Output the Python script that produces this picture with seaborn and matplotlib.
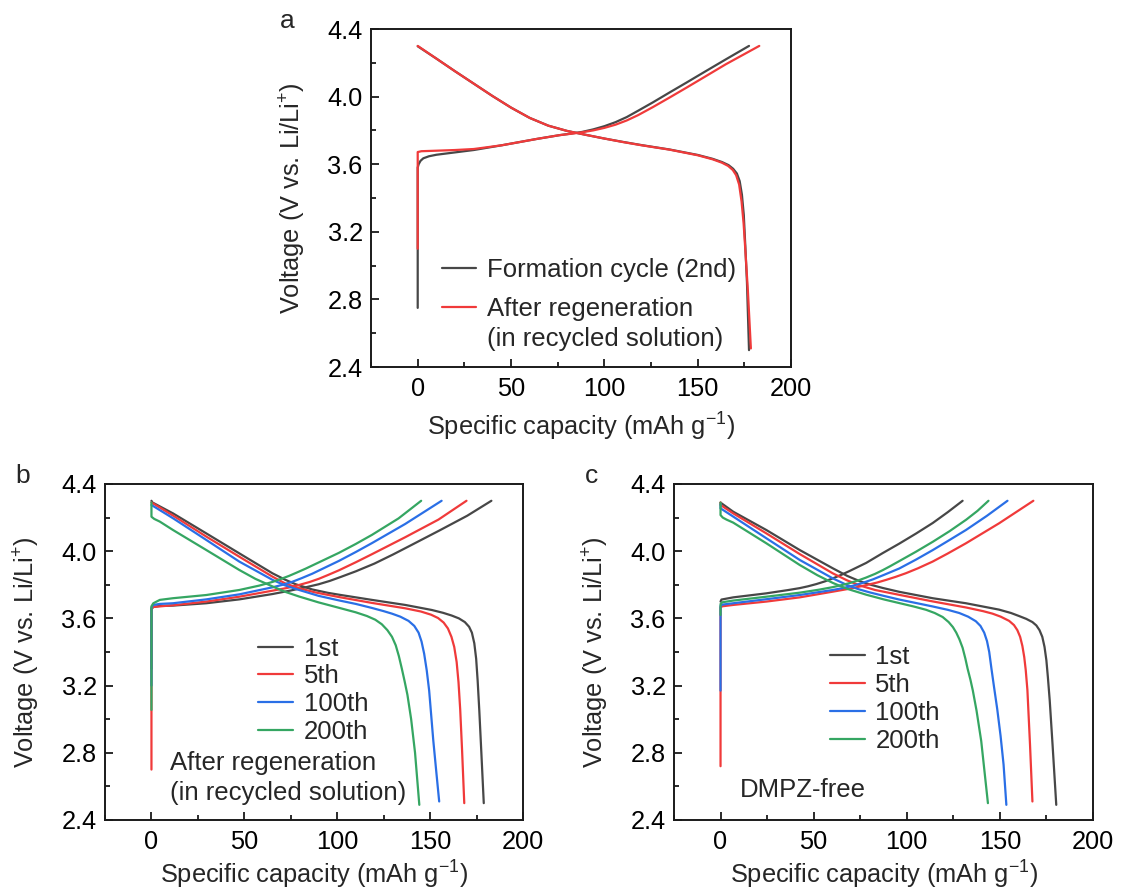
import matplotlib
matplotlib.use("Agg")
import matplotlib.pyplot as plt
import pandas as pd
import seaborn as sns
from matplotlib.lines import Line2D
from matplotlib.ticker import MultipleLocator, FormatStrFormatter

# ---------------------------------------------------------------------------
# Charge / discharge profiles: (specific capacity in mAh/g, voltage in V)
# ---------------------------------------------------------------------------

# (a) formation cycle vs. regenerated cathode
A_FORM_CHG = [(0, 2.75), (0, 3.58), (0.5, 3.60), (1.5, 3.62), (3, 3.635), (6, 3.647),
              (10, 3.656), (20, 3.670), (30, 3.684), (45, 3.712), (64, 3.750),
              (76, 3.772), (82, 3.781), (88, 3.791), (94, 3.806), (100, 3.825),
              (106, 3.849), (112, 3.879), (118, 3.916), (126, 3.966), (135, 4.025),
              (144, 4.083), (153, 4.142), (165, 4.220), (177.5, 4.30)]
A_FORM_DIS = [(0, 4.298), (10, 4.225), (20, 4.150), (30, 4.077), (40, 4.004), (50, 3.935),
              (60, 3.874), (70, 3.828), (80, 3.797), (90, 3.774), (100, 3.752),
              (110, 3.732), (120, 3.713), (135, 3.687), (150, 3.655), (158, 3.632),
              (163, 3.613), (166.5, 3.595), (169, 3.573), (171, 3.545), (172.5, 3.50),
              (173.7, 3.42), (174.7, 3.30), (175.5, 3.12), (176.4, 2.90), (177.5, 2.50)]
A_REGEN_CHG = [(0, 3.10), (0, 3.672), (2, 3.677), (10, 3.680), (20, 3.684), (30, 3.690),
               (45, 3.712), (64, 3.750), (76, 3.772), (82, 3.780), (88, 3.789),
               (94, 3.800), (100, 3.815), (106, 3.834), (112, 3.859), (118, 3.890),
               (126, 3.938), (135, 3.995), (144, 4.053), (153, 4.112), (165, 4.191),
               (183, 4.30)]
A_REGEN_DIS = [(0, 4.300), (10, 4.225), (20, 4.150), (30, 4.077), (40, 4.004), (50, 3.935),
               (60, 3.874), (70, 3.828), (80, 3.797), (90, 3.774), (100, 3.752),
               (110, 3.731), (120, 3.712), (135, 3.686), (150, 3.653), (158, 3.629),
               (163, 3.609), (166.3, 3.590), (168.8, 3.566), (170.6, 3.535), (172.2, 3.48),
               (173.5, 3.38), (174.6, 3.25), (175.6, 3.08), (176.9, 2.85), (178.5, 2.51)]

# (b) cycling after regeneration in recycled solution
B_1ST_CHG = [(0, 3.30), (0, 3.655), (1, 3.668), (4.5, 3.674), (11.6, 3.676), (29.5, 3.690),
             (47.3, 3.713), (65.2, 3.745), (75, 3.766), (83, 3.785), (90, 3.803),
             (96, 3.823), (102, 3.847), (110, 3.880), (120, 3.926), (130, 3.980),
             (140, 4.037), (155, 4.123), (170, 4.211), (183, 4.30)]
B_1ST_DIS = [(0, 4.300), (0.5, 4.290), (11.6, 4.225), (29.5, 4.106), (47.3, 3.987),
             (65.2, 3.868), (72, 3.830), (77.7, 3.803), (86.6, 3.772), (95, 3.752),
             (100.9, 3.741), (118.7, 3.710), (136.6, 3.680), (150.9, 3.650), (157, 3.633),
             (161.6, 3.617), (165.5, 3.600), (168.7, 3.578), (171, 3.550), (172.5, 3.515),
             (173.8, 3.452), (174.8, 3.36), (175.6, 3.23), (176.5, 3.05), (177.6, 2.80),
             (178.9, 2.50)]
B_5TH_CHG = [(0, 2.70), (0, 3.660), (1, 3.668), (11.6, 3.678), (29.5, 3.700), (47.3, 3.729),
             (65.2, 3.765), (73, 3.781), (79.5, 3.799), (85, 3.816), (90.2, 3.836),
             (95, 3.858), (100.9, 3.886), (110, 3.934), (118.7, 3.982), (136.6, 4.083),
             (154.5, 4.188), (169.6, 4.30)]
B_5TH_DIS = [(0, 4.290), (11.6, 4.212), (29.5, 4.087), (47.3, 3.967), (65.2, 3.848),
             (72, 3.808), (79.5, 3.779), (88, 3.755), (100.9, 3.727), (118.7, 3.692),
             (136.6, 3.660), (145, 3.641), (150.5, 3.622), (154.3, 3.602), (157.3, 3.575),
             (159.6, 3.540), (161.5, 3.490), (163, 3.430), (164.3, 3.340), (165.3, 3.220),
             (166.2, 3.06), (167.2, 2.82), (168.4, 2.50)]
B_100TH_CHG = [(0, 3.20), (0, 3.665), (1, 3.680), (4.5, 3.686), (11.6, 3.690), (29.5, 3.713),
               (47.3, 3.743), (65.2, 3.785), (71, 3.801), (75.9, 3.818), (81, 3.840),
               (86.6, 3.866), (93, 3.900), (100.9, 3.942), (110, 3.995), (118.7, 4.048),
               (136.6, 4.162), (156.2, 4.30)]
B_100TH_DIS = [(0, 4.275), (11.6, 4.196), (29.5, 4.067), (47.3, 3.938), (65.2, 3.829),
               (72, 3.796), (79.5, 3.769), (90, 3.734), (100.9, 3.707), (110, 3.686),
               (118.7, 3.662), (125, 3.643), (129.5, 3.628), (134, 3.610), (138.4, 3.585),
               (141.5, 3.555), (143.8, 3.515), (145.4, 3.462), (146.8, 3.390), (148.2, 3.290),
               (149.5, 3.170), (151.7, 2.876), (153.4, 2.68), (154.9, 2.51)]
B_200TH_CHG = [(0, 3.055), (0, 3.672), (1, 3.690), (4.5, 3.710), (11.6, 3.720), (29.5, 3.739),
               (47.3, 3.769), (58, 3.795), (65.2, 3.817), (70, 3.836), (74.1, 3.853),
               (78.5, 3.874), (83, 3.896), (91, 3.938), (100.9, 3.990), (110, 4.043),
               (118.7, 4.097), (133, 4.195), (145.2, 4.30)]
B_200TH_DIS = [(0, 4.290), (0, 4.205), (1.5, 4.192), (4.5, 4.176), (11.6, 4.126),
               (29.5, 4.007), (47.3, 3.888), (56, 3.835), (65.2, 3.790), (72, 3.758),
               (79.5, 3.730), (90, 3.695), (100.9, 3.663), (110, 3.636), (116, 3.614),
               (120.5, 3.592), (124, 3.565), (127, 3.530), (129.5, 3.490), (131.5, 3.440),
               (133.2, 3.375), (134.8, 3.300), (136.3, 3.225), (137.8, 3.145),
               (139.8, 3.000), (141.9, 2.800), (144.2, 2.49)]

# (c) DMPZ-free reference
C_1ST_CHG = [(0, 3.700), (0.5, 3.712), (6.8, 3.725), (24.6, 3.749), (36, 3.768),
             (42.5, 3.780), (47, 3.791), (51.4, 3.804), (56, 3.820), (60.3, 3.838),
             (65, 3.860), (69.3, 3.882), (78.2, 3.930), (87, 3.988), (96, 4.045),
             (105, 4.105), (114, 4.168), (122, 4.232), (130, 4.30)]
C_1ST_DIS = [(0, 4.289), (6.8, 4.235), (24.6, 4.126), (42.5, 4.007), (60.3, 3.898),
             (68, 3.853), (74.6, 3.822), (81, 3.799), (87.1, 3.781), (96, 3.758),
             (113.9, 3.720), (131.8, 3.690), (149.6, 3.652), (156, 3.632), (160.3, 3.614),
             (164.2, 3.597), (167.5, 3.578), (169.6, 3.558), (171.3, 3.530), (172.8, 3.490),
             (174, 3.430), (175, 3.350), (175.8, 3.250), (176.8, 3.110), (178.3, 2.850),
             (180.3, 2.49)]
C_5TH_CHG = [(0, 2.72), (0, 3.666), (1, 3.672), (6.8, 3.680), (24.6, 3.700), (42.5, 3.725),
             (60.3, 3.759), (70, 3.778), (78.2, 3.798), (84, 3.813), (88.9, 3.829),
             (94, 3.847), (99.6, 3.869), (106, 3.898), (113.9, 3.938), (122, 3.986),
             (131.8, 4.047), (149.6, 4.166), (168, 4.30)]
C_5TH_DIS = [(0, 4.290), (0, 4.275), (6.8, 4.225), (24.6, 4.106), (42.5, 3.983), (60.3, 3.868),
             (68, 3.826), (75, 3.795), (83, 3.769), (96, 3.740), (113.9, 3.701), (131.8, 3.665),
             (141, 3.643), (146.1, 3.628), (150.5, 3.610), (155, 3.585), (157.6, 3.560),
             (159.4, 3.530), (160.9, 3.490), (162.1, 3.436), (163.1, 3.370), (163.9, 3.293),
             (164.8, 3.174), (166.2, 2.850), (167.5, 2.51)]
C_100TH_CHG = [(0, 3.17), (0, 3.674), (1, 3.682), (6.8, 3.690), (24.6, 3.714), (42.5, 3.739),
               (60.3, 3.769), (66, 3.781), (71, 3.794), (76, 3.810), (81.8, 3.832),
               (88, 3.860), (96, 3.897), (105, 3.950), (113.9, 4.006), (122, 4.060),
               (131.8, 4.126), (143, 4.210), (154.1, 4.30)]
C_100TH_DIS = [(0, 4.280), (0, 4.255), (6.8, 4.206), (24.6, 4.077), (42.5, 3.948),
               (60.3, 3.838), (68, 3.798), (74, 3.774), (80, 3.755), (88, 3.733), (96, 3.712),
               (113.9, 3.671), (122, 3.651), (128.2, 3.632), (133, 3.610), (137.1, 3.583),
               (139.6, 3.555), (141.6, 3.515), (143.1, 3.465), (144.3, 3.400), (145.5, 3.300),
               (146.9, 3.190), (148.6, 3.060), (150.4, 2.900), (152, 2.730), (153.5, 2.49)]
C_200TH_CHG = [(0, 3.62), (0, 3.686), (1, 3.696), (6.8, 3.706), (24.6, 3.729), (42.5, 3.753),
               (53, 3.771), (60.3, 3.786), (65, 3.798), (69.3, 3.810), (74, 3.826),
               (78.2, 3.843), (83, 3.865), (87.1, 3.887), (91, 3.910), (96, 3.941),
               (105, 3.997), (114, 4.056), (123, 4.119), (132, 4.188), (138, 4.240),
               (143.9, 4.30)]
C_200TH_DIS = [(0, 4.289), (0, 4.215), (1.2, 4.200), (3.2, 4.188), (6.8, 4.170),
               (24.6, 4.047), (42.5, 3.918), (52, 3.857), (60.3, 3.811), (68, 3.776),
               (78.2, 3.741), (88, 3.712), (96, 3.691), (104, 3.670), (110.4, 3.651),
               (115, 3.632), (119.3, 3.608), (122.5, 3.578), (124.8, 3.548), (126.6, 3.515),
               (128.3, 3.475), (130, 3.425), (131.5, 3.360), (132.7, 3.300), (134.2, 3.235),
               (135.5, 3.170), (137.5, 3.050), (140, 2.870), (143.6, 2.50)]

A_LABELS = ["Formation cycle (2nd)", "After regeneration"]
CYCLE_LABELS = ["1st", "5th", "100th", "200th"]

GRAY, RED, BLUE, GREEN = "#474747", "#f03a3a", "#2a6fe6", "#35a662"
A_COLORS = [GRAY, RED]
CYCLE_COLORS = [GRAY, RED, BLUE, GREEN]

# ---------------------------------------------------------------------------
sns.set_style("ticks")
plt.rcParams["font.family"] = ["Liberation Sans", "DejaVu Sans"]
plt.rcParams["mathtext.fontset"] = "custom"
plt.rcParams["mathtext.rm"] = "Liberation Sans"
plt.rcParams["mathtext.it"] = "Liberation Sans:italic"
plt.rcParams["mathtext.default"] = "regular"
plt.rcParams["axes.linewidth"] = 1.4
plt.rcParams["axes.edgecolor"] = "#1a1a1a"

TICK_FS = 18.3
LABEL_FS = 18.3
TEXT_FS = 18.5


def to_frame(groups):
    """groups: list of (hue label, [curve, curve, ...])"""
    rows = []
    for label, curves in groups:
        for k, curve in enumerate(curves):
            for q, v in curve:
                rows.append({"Q": q, "V": v, "series": label, "unit": f"{label}-{k}"})
    return pd.DataFrame(rows)


def style_axes(ax, xlabel_y):
    ax.set_xlim(-25, 200)
    ax.set_ylim(2.4, 4.4)
    ax.xaxis.set_major_locator(MultipleLocator(50))
    ax.xaxis.set_minor_locator(MultipleLocator(25))
    ax.yaxis.set_major_locator(MultipleLocator(0.4))
    ax.yaxis.set_minor_locator(MultipleLocator(0.2))
    ax.yaxis.set_major_formatter(FormatStrFormatter("%.1f"))
    ax.tick_params(which="both", direction="in", top=False, right=False,
                   width=1.3, colors="#1a1a1a", labelcolor="black")
    ax.tick_params(which="major", length=6, labelsize=TICK_FS)
    ax.tick_params(which="minor", length=3.5)
    ax.tick_params(axis="x", which="major", pad=7.5)
    ax.tick_params(axis="y", which="major", pad=6)
    for s in ax.spines.values():
        s.set_visible(True)
        s.set_linewidth(1.4)
    ax.set_xlabel(r"Specific capacity (mAh g$^{-1}$)", fontsize=LABEL_FS)
    ax.set_ylabel(r"Voltage (V vs. Li/Li$^{+}$)", fontsize=LABEL_FS)
    ax.xaxis.set_label_coords(0.5, xlabel_y)
    ax.yaxis.set_label_coords(-0.151, 0.5)


def draw(ax, df, order, colors):
    sns.lineplot(data=df, x="Q", y="V", hue="series", hue_order=order,
                 palette=dict(zip(order, colors)), units="unit", estimator=None,
                 sort=False, linewidth=1.6, legend=False, ax=ax)


def add_legend(ax, labels, colors, anchor, spacing):
    handles = [Line2D([], [], color=c, lw=1.6) for c in colors]
    ax.legend(handles, labels, loc="upper left", bbox_to_anchor=anchor,
              frameon=False, fontsize=TEXT_FS, handlelength=1.35,
              handletextpad=0.42, labelspacing=spacing, borderpad=0,
              borderaxespad=0)


fig = plt.figure(figsize=(11.22, 8.9), dpi=100)
ax_a = fig.add_axes([0.3307, 0.5876, 0.3743, 0.3798])
ax_b = fig.add_axes([0.0936, 0.0787, 0.3725, 0.3775])
ax_c = fig.add_axes([0.6007, 0.0787, 0.3734, 0.3775])

# (a)
df_a = to_frame([(A_LABELS[0], [A_FORM_CHG, A_FORM_DIS]),
                 (A_LABELS[1], [A_REGEN_CHG, A_REGEN_DIS])])
draw(ax_a, df_a, A_LABELS, A_COLORS)
style_axes(ax_a, -0.128)
add_legend(ax_a, A_LABELS, A_COLORS, (0.168, 0.322), 0.56)
ax_a.text(0.2755, 0.083, "(in recycled solution)", transform=ax_a.transAxes,
          fontsize=TEXT_FS, ha="left", va="center")

# (b)
df_b = to_frame([("1st", [B_1ST_CHG, B_1ST_DIS]), ("5th", [B_5TH_CHG, B_5TH_DIS]),
                 ("100th", [B_100TH_CHG, B_100TH_DIS]), ("200th", [B_200TH_CHG, B_200TH_DIS])])
draw(ax_b, df_b, CYCLE_LABELS, CYCLE_COLORS)
style_axes(ax_b, -0.117)
add_legend(ax_b, CYCLE_LABELS, CYCLE_COLORS, (0.367, 0.546), 0.15)
ax_b.text(0.156, 0.125, "After regeneration\n(in recycled solution)",
          transform=ax_b.transAxes, fontsize=TEXT_FS, ha="left", va="center",
          linespacing=1.27)

# (c)
df_c = to_frame([("1st", [C_1ST_CHG, C_1ST_DIS]), ("5th", [C_5TH_CHG, C_5TH_DIS]),
                 ("100th", [C_100TH_CHG, C_100TH_DIS]), ("200th", [C_200TH_CHG, C_200TH_DIS])])
draw(ax_c, df_c, CYCLE_LABELS, CYCLE_COLORS)
style_axes(ax_c, -0.117)
add_legend(ax_c, CYCLE_LABELS, CYCLE_COLORS, (0.372, 0.52), 0.15)
ax_c.text(0.158, 0.089, "DMPZ-free", transform=ax_c.transAxes,
          fontsize=TEXT_FS, ha="left", va="center")

# panel letters
for letter, (x, y) in {"a": (287, 21), "b": (23, 476), "c": (592, 476)}.items():
    fig.text(x / 1122, 1 - y / 890, letter, fontsize=19, ha="center", va="center")

fig.savefig("out.png", dpi=100)
